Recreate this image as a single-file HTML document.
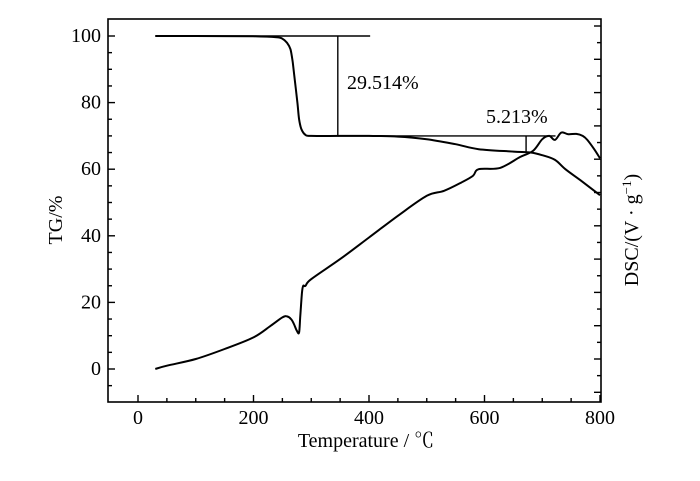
<!DOCTYPE html>
<html><head><meta charset="utf-8"><style>
body{margin:0;background:#fff}
svg{display:block;font-family:"Liberation Serif","Noto Serif CJK SC",serif}
</style></head><body>
<svg id="chart" width="700" height="481" viewBox="0 0 700 481">
<rect width="700" height="481" fill="#fff"/>
<g id="ticks"></g>
<g id="series"></g>
<g id="annot" stroke="#000" stroke-width="1.3" fill="none"></g>
<rect x="108" y="19" width="493" height="383" fill="none" stroke="#000" stroke-width="1.6"/>
<text x="347" y="89" font-size="20">29.514%</text>
<text x="486" y="123" font-size="20">5.213%</text>
<text x="366" y="447" font-size="20" text-anchor="middle">Temperature / ℃</text>
<text transform="translate(62,220) rotate(-90)" font-size="20" text-anchor="middle">TG/%</text>
<text transform="translate(638,230) rotate(-90)" font-size="20" text-anchor="middle">DSC/(V · g<tspan dy="-7" font-size="13">−1</tspan><tspan dy="7">)</tspan></text>
</svg>
<script>
const xTicks=[0,200,400,600,800];
const yTicks=[0,20,40,60,80,100];
const tgX=[30,100,200,240,250,258,264,268,272,276,279,283,290,300,350,400,450,500,550,590,650,680,700,722,740,766,800];
const tgY=[100,100,99.9,99.6,99.2,98,96,92,86,80,75,72,70.3,70,70,70,69.8,69,67.5,66,65.3,65,64.2,62.8,60,56.7,52.2];
const dscX=[30,50,100,150,200,230,250,258,265,270,275,279,281,284,286,290,300,350,400,450,500,530,560,580,590,627,662,684,700,712,722,733,745,759,770,778,790,800];
const dscY=[0,1,3,6,9.5,13,15.5,15.8,15,13.5,11.5,11,16,23,25,25,27,33,39.5,46,52,53.5,56,58,60,60.4,63.7,65.5,69,70,68.8,71,70.5,70.6,70,68.8,66,63.3];
const x=v=>138+(v-0)*0.5775;
const y=v=>369-v*3.33;
const ns="http://www.w3.org/2000/svg";
const svg=document.getElementById('chart');
const tk=document.getElementById('ticks');
function line(g,x1,y1,x2,y2,w){const l=document.createElementNS(ns,'line');l.setAttribute('x1',x1);l.setAttribute('y1',y1);l.setAttribute('x2',x2);l.setAttribute('y2',y2);l.setAttribute('stroke','#000');l.setAttribute('stroke-width',w||1.4);g.appendChild(l);return l;}
for(let v=0;v<=800;v+=50){const l=line(tk,x(v),402,x(v),v%200===0?395:398);

}
for(let v=-5;v<=100;v+=5){if(y(v)>402)continue;const l=line(tk,108,y(v),v%20===0?115:112,y(v));

}
for(let k=0;k<23;k++){const yy=26+k*16.65;if(yy>400)break;const l=line(tk,601,yy,k%2===0?594:597,yy);

}
xTicks.forEach(v=>{const t=document.createElementNS(ns,'text');t.setAttribute('x',x(v));t.setAttribute('y',424);t.setAttribute('text-anchor','middle');t.setAttribute('font-size','20');t.textContent=v;


svg.appendChild(t);});
yTicks.forEach(v=>{const t=document.createElementNS(ns,'text');t.setAttribute('x',101);t.setAttribute('y',y(v)+6);t.setAttribute('text-anchor','end');t.setAttribute('font-size','20');t.textContent=v;


svg.appendChild(t);});
const sg=document.getElementById('series');
function smooth(pts){let d='M'+pts[0][0].toFixed(1)+','+pts[0][1].toFixed(1);
for(let i=0;i<pts.length-1;i++){const p0=pts[Math.max(0,i-1)],p1=pts[i],p2=pts[i+1],p3=pts[Math.min(pts.length-1,i+2)];
const c1=[p1[0]+(p2[0]-p0[0])/6,p1[1]+(p2[1]-p0[1])/6],c2=[p2[0]-(p3[0]-p1[0])/6,p2[1]-(p3[1]-p1[1])/6];
d+='C'+c1[0].toFixed(1)+','+c1[1].toFixed(1)+' '+c2[0].toFixed(1)+','+c2[1].toFixed(1)+' '+p2[0].toFixed(1)+','+p2[1].toFixed(1);}
return d;}
function path(xs,ys,name){const p=document.createElementNS(ns,'path');p.setAttribute('d',smooth(xs.map((v,i)=>[x(v),y(ys[i])])));p.setAttribute('fill','none');p.setAttribute('stroke','#000');p.setAttribute('stroke-width','2');p.setAttribute('stroke-linejoin','round');


sg.appendChild(p);}
path(tgX,tgY,'tg-curve');
path(dscX,dscY,'dsc-curve');
const an=document.getElementById('annot');
const a1=line(an,x(30),y(100),x(402),y(100));


const a2=line(an,x(346),y(100),x(346),y(70));


const a3=line(an,x(346),y(70),x(723),y(70));


const a4=line(an,x(672),y(70),x(672),y(65));


</script>
</body></html>
